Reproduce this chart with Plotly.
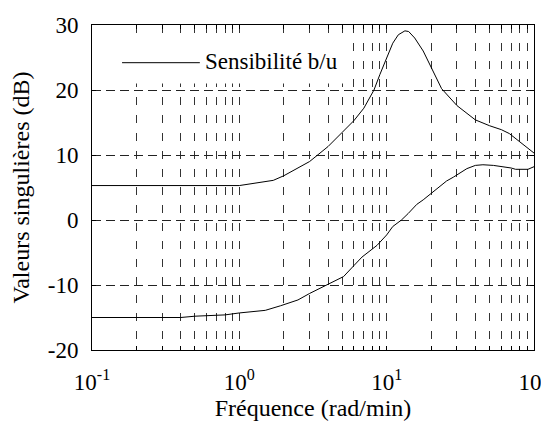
import plotly.graph_objects as go

# ---- data ----
freq_upper = [0.1, 1.0, 1.7, 2.0, 3.0, 4.0, 5.0, 6.0, 7.0, 8.2, 9.0, 10.0, 11.0, 12.0,
              13.3, 14.1, 15.5, 17.7, 20.0, 23.6, 30.0, 40.0, 50.0, 60.0, 68.0, 80.0, 90.0, 100.0]
sv_upper = [5.3, 5.3, 6.1, 6.8, 9.0, 11.3, 13.5, 15.3, 17.2, 20.0, 22.4, 24.8, 27.2, 28.5,
            29.1, 29.0, 28.0, 26.0, 23.6, 20.2, 17.6, 15.4, 14.5, 13.9, 13.3, 12.0, 11.0, 10.3]

freq_lower = [0.1, 0.4, 0.5, 0.8, 1.0, 1.5, 1.9, 2.5, 3.0, 4.0, 5.1, 6.0, 6.8, 8.6, 10.0, 11.0,
              12.6, 14.0, 16.0, 17.7, 20.0, 25.5, 28.4, 35.0, 40.0, 45.0, 53.0, 62.0, 70.0,
              75.0, 91.0, 100.0]
sv_lower = [-15.0, -15.0, -14.8, -14.6, -14.3, -13.9, -13.2, -12.3, -11.3, -9.9, -8.7, -7.0,
            -5.7, -3.9, -2.3, -1.0, 0.0, 1.0, 2.4, 3.1, 4.1, 6.0, 6.6, 7.9, 8.4, 8.5, 8.4, 8.2,
            8.0, 7.8, 7.8, 8.2]

x_major = [0.1, 1, 10, 100]
x_major_text = ["10<sup>-1</sup>", "10<sup>0</sup>", "10<sup>1</sup>", "10<sup>2</sup>"]
x_minor = [m * d for d in (0.1, 1, 10) for m in range(2, 10)]
y_ticks = [-20, -10, 0, 10, 20, 30]
y_tick_text = ["-20", "-10", "0", "10", "20", "30"]

legend_label = "Sensibilité b/u"
x_title = "Fréquence (rad/min)"
y_title = "Valeurs singulières (dB)"

FONT = "Liberation Serif, Times New Roman, serif"
LINE = "#000000"

fig = go.Figure()
fig.add_trace(go.Scatter(x=freq_upper, y=sv_upper, mode="lines", name=legend_label,
                         line=dict(color=LINE, width=1), showlegend=False))
fig.add_trace(go.Scatter(x=freq_lower, y=sv_lower, mode="lines", name=legend_label,
                         line=dict(color=LINE, width=1), showlegend=False))

# legend drawn manually (white box hiding grid, line sample, label)
fig.add_shape(type="rect", xref="paper", yref="paper", x0=0.005, x1=0.584, y0=0.820, y1=0.958,
              fillcolor="white", line=dict(width=0), layer="above")
fig.add_shape(type="line", xref="paper", yref="paper", x0=0.068, x1=0.244, y0=0.884, y1=0.884,
              line=dict(color=LINE, width=1), layer="above")
fig.add_annotation(xref="paper", yref="paper", x=0.250, y=0.887, xanchor="left", yanchor="middle",
                   text=legend_label, showarrow=False, font=dict(family=FONT, size=23, color="black"))

# the page body adds an 8px offset, margins compensate for it
fig.update_layout(
    width=549, height=421,
    margin=dict(l=84, r=23, t=17, b=79, autoexpand=False),
    paper_bgcolor="white", plot_bgcolor="white",
    font=dict(family=FONT, size=23, color="black"),
    showlegend=False,
)

fig.update_xaxes(
    type="log", range=[-1, 2], automargin=False,
    tickvals=x_major, ticktext=x_major_text,
    ticks="inside", ticklen=4, tickcolor="black",
    showline=True, linecolor="black", linewidth=1, mirror="ticks",
    showgrid=True, gridcolor="#333", gridwidth=1, griddash="8px,10px",
    minor=dict(tickvals=x_minor, ticks="inside", ticklen=4, tickcolor="black",
               showgrid=True, gridcolor="#333", gridwidth=1, griddash="8px,10px"),
    title=dict(text=x_title, font=dict(size=24), standoff=0),
    tickfont=dict(size=23), ticklabelstandoff=11,
    zeroline=False,
)
fig.update_yaxes(
    range=[-20, 30], tickvals=y_ticks, ticktext=y_tick_text, automargin=False,
    ticks="inside", ticklen=4, tickcolor="black",
    showline=True, linecolor="black", linewidth=1, mirror="ticks",
    showgrid=True, gridcolor="#222", gridwidth=1, griddash="9px,5px",
    title=dict(text=y_title, font=dict(size=24), standoff=18),
    tickfont=dict(size=23), ticklabelstandoff=8,
    zeroline=False,
)

fig.write_html("out.html")
